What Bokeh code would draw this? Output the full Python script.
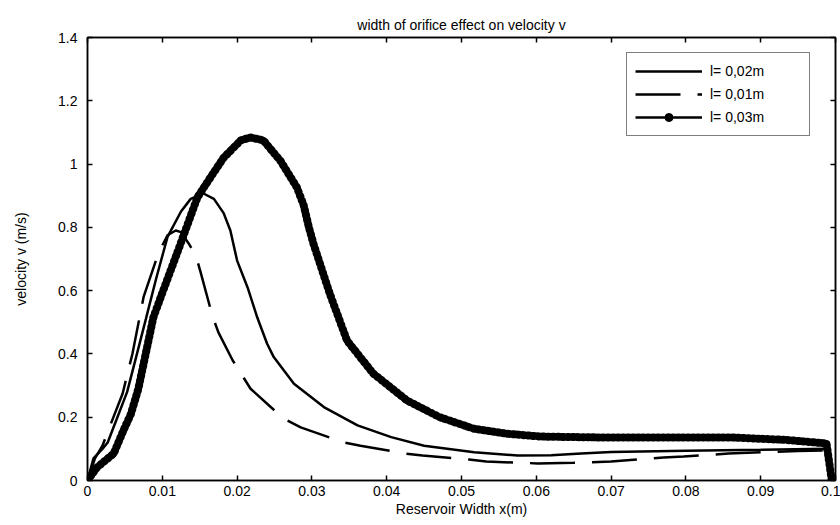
from bokeh.plotting import figure
from bokeh.models import (FixedTicker, CustomJSTickFormatter, LinearAxis, Legend,
                          LegendItem, Range1d)
from bokeh.embed import file_html
from bokeh.resources import INLINE

# ---- data ----
x_02 = [0, 0.0008, 0.002, 0.0027, 0.004, 0.0053, 0.0065, 0.0078, 0.0092, 0.0107,
        0.0125, 0.0138, 0.0155, 0.0169, 0.0182, 0.0191, 0.02, 0.0214, 0.0227, 0.024,
        0.0249, 0.0276, 0.0316, 0.0361, 0.0406, 0.045, 0.0517, 0.0575, 0.062, 0.066,
        0.07, 0.08, 0.09, 0.099, 0.0995]
v_02 = [0, 0.07, 0.1, 0.12, 0.2, 0.28, 0.39, 0.51, 0.64, 0.77,
        0.85, 0.89, 0.907, 0.89, 0.845, 0.79, 0.695, 0.61, 0.515, 0.433,
        0.39, 0.306, 0.232, 0.174, 0.137, 0.11, 0.089, 0.079, 0.08, 0.085,
        0.09, 0.094, 0.097, 0.1, 0]

x_01 = [0, 0.001, 0.002, 0.0033, 0.0047, 0.006, 0.0075, 0.0095, 0.0107, 0.0118,
        0.0125, 0.0135, 0.0145, 0.0151, 0.0167, 0.0175, 0.0194, 0.0218, 0.0262, 0.0285,
        0.0343, 0.0365, 0.0426, 0.0448, 0.051, 0.0533, 0.0602, 0.065, 0.07, 0.077,
        0.0797, 0.0857, 0.09, 0.095, 0.099, 0.0995]
v_01 = [0, 0.07, 0.11, 0.19, 0.275, 0.4, 0.58, 0.72, 0.775, 0.79,
        0.785, 0.75, 0.71, 0.66, 0.52, 0.468, 0.38, 0.29, 0.196, 0.168,
        0.12, 0.11, 0.085, 0.079, 0.066, 0.06, 0.054, 0.056, 0.06, 0.073,
        0.076, 0.085, 0.089, 0.093, 0.095, 0]

x_03 = [0, 0.0013, 0.0035, 0.0048, 0.0058, 0.0068, 0.0088, 0.0098, 0.012, 0.0147,
        0.0165, 0.0182, 0.0205, 0.0218, 0.0235, 0.0258, 0.028, 0.0289, 0.0296, 0.0302,
        0.0324, 0.0347, 0.0382, 0.0427, 0.0471, 0.0516, 0.056, 0.0605, 0.0685, 0.0775,
        0.0862, 0.0935, 0.0988, 0.0995]
v_03 = [0, 0.042, 0.085, 0.158, 0.21, 0.29, 0.515, 0.58, 0.72, 0.895,
        0.96, 1.02, 1.075, 1.084, 1.075, 1.01, 0.926, 0.87, 0.8, 0.749,
        0.59, 0.442, 0.338, 0.253, 0.2, 0.164, 0.148, 0.139, 0.136, 0.136,
        0.136, 0.128, 0.117, 0]

x_ticks = [0, 0.01, 0.02, 0.03, 0.04, 0.05, 0.06, 0.07, 0.08, 0.09, 0.1]
y_ticks = [0, 0.2, 0.4, 0.6, 0.8, 1.0, 1.2, 1.4]

title_text = "width of orifice effect on velocity v"
x_label = "Reservoir Width x(m)"
y_label = "velocity v (m/s)"
labels = ["l= 0,02m", "l= 0,01m", "l= 0,03m"]

FONT = "Liberation Sans"
FS = "14px"

p = figure(width=840, height=520, output_backend="svg", toolbar_location=None,
           x_range=Range1d(0, 0.1), y_range=Range1d(0, 1.4),
           min_border_left=87, min_border_right=5, min_border_top=37,
           min_border_bottom=40)
p.title.text = title_text
p.title.align = "center"
p.title.text_font = FONT
p.title.text_font_size = FS
p.title.text_font_style = "normal"
p.title.text_color = "black"

p.xgrid.visible = False
p.ygrid.visible = False
p.outline_line_color = "black"
p.outline_line_width = 1.5

fmt = CustomJSTickFormatter(code="return String(Math.round(tick*1000)/1000);")
blank = CustomJSTickFormatter(code="return '';")

def style_axis(ax, ticks, show_labels=True):
    ax.ticker = FixedTicker(ticks=ticks)
    ax.formatter = fmt if show_labels else blank
    ax.major_tick_in = 5
    ax.major_tick_out = 0
    ax.minor_tick_in = 0
    ax.minor_tick_out = 0
    ax.major_tick_line_width = 1.5
    ax.axis_line_width = 1.5
    ax.axis_line_color = "black"
    ax.major_tick_line_color = "black"
    ax.major_label_text_font = FONT
    ax.major_label_text_font_size = FS
    ax.major_label_text_color = "black"
    ax.axis_label_text_font = FONT
    ax.axis_label_text_font_size = FS
    ax.axis_label_text_font_style = "normal"
    ax.axis_label_text_color = "black"
    if not show_labels:
        ax.major_label_standoff = 0

xa = p.xaxis[0]
ya = p.yaxis[0]
style_axis(xa, x_ticks)
style_axis(ya, y_ticks)
xa.axis_label = x_label
ya.axis_label = y_label
xa.major_label_standoff = 5
xa.axis_label_standoff = 2
ya.major_label_standoff = 10
ya.axis_label_standoff = 26

top = LinearAxis()
style_axis(top, x_ticks, show_labels=False)
p.add_layout(top, "above")
right = LinearAxis()
style_axis(right, y_ticks, show_labels=False)
p.add_layout(right, "right")

r02 = p.line(x_02, v_02, line_color="black", line_width=2.5)
r01 = p.line(x_01, v_01, line_color="black", line_width=2.5, line_dash="45 17")
r03 = p.line(x_03, v_03, line_color="black", line_width=2.5)
p.line(x_03, v_03, line_color="black", line_width=8, line_dash="1 4", line_cap="round")
m03 = p.scatter(x_03, v_03, marker="circle", size=6, fill_color="black", line_color="black")

legend = Legend(items=[LegendItem(label=labels[0], renderers=[r02]),
                       LegendItem(label=labels[1], renderers=[r01]),
                       LegendItem(label=labels[2], renderers=[r03, m03])],
                location=(539, 344), glyph_width=67, glyph_height=20, label_height=20,
                label_standoff=8, label_width=91, spacing=3, padding=8,
                label_text_font=FONT, label_text_font_size=FS, label_text_color="black",
                border_line_color="black", border_line_width=1.5,
                background_fill_color="white", background_fill_alpha=1.0)
p.add_layout(legend)

open("out.html", "w").write(file_html(p, INLINE))
